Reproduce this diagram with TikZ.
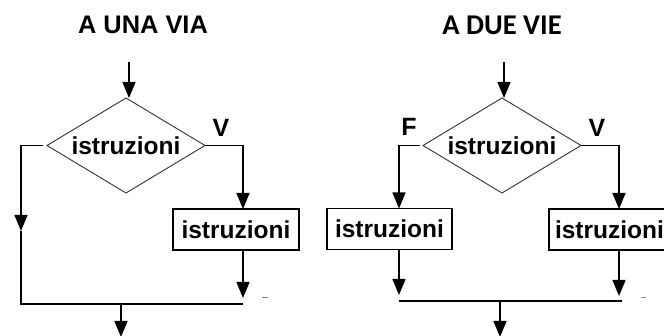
\documentclass[tikz,border=0pt]{standalone}
\usepackage{fontspec}
\setmainfont{Liberation Sans}
\newfontfamily\headfont{Carlito}
\usetikzlibrary{shapes.geometric,arrows.meta}
\begin{document}
\begin{tikzpicture}[x=1pt,y=-1pt,
  flow/.style={line width=1.4pt, draw=black},
  arr/.style={flow, -{Triangle[length=16pt,width=13pt]}},
  cond/.style={diamond, draw=black!80, line width=0.9pt, aspect=1.66,
    minimum width=158pt, minimum height=95pt, inner sep=0pt, outer sep=0pt,
    font=\bfseries\fontsize{24.5}{24.5}\selectfont},
  stmt/.style={rectangle, draw=black, line width=1.4pt, minimum height=41pt,
    inner sep=0pt, outer sep=0pt, font=\bfseries\fontsize{24.5}{24.5}\selectfont},
  lbl/.style={inner sep=0pt, font=\bfseries\fontsize{25}{25}\selectfont},
  headA/.style={inner sep=0pt, font=\bfseries\fontsize{25.4}{25.4}\selectfont},
  headB/.style={inner sep=0pt, font=\headfont\bfseries\fontsize{28.6}{28.6}\selectfont},
  speck/.style={draw=black!45, line width=1pt}
]
\useasboundingbox (0,0) rectangle (664,336);

% ---------- one-way selection ----------
\node[headA] (t1) at (143,25) {A UNA VIA};
\node[cond] (d1) at (126,145.5) {istruzioni};
\node[stmt, minimum width=126pt] (b1) at (236,229.5) {istruzioni};
\node[lbl] (v1) at (221,128) {V};

\coordinate (s1) at (129,62);
\coordinate (la) at (21,231);
\coordinate (jl1) at (21,304);
\coordinate (jr1) at (243,304);
\coordinate (r1) at (243,146);
\coordinate (e1) at (243,298);
\coordinate (m1) at (121,304);
\coordinate (o1) at (121,337);

\draw[arr] (s1) -- (s1 |- d1.north);
\draw[arr, shorten <=4pt] (d1.west) -| (la);
\draw[flow] (la) -- (jl1) -- (jr1);
\draw[arr] (d1.east) -| (r1 |- b1.north);
\draw[arr] (r1 |- b1.south) -- (e1);
\draw[arr] (m1) -- (o1);
\draw[speck] (262,298) -- (268,298);

% ---------- two-way selection ----------
\node[headB] (t2) at (502,25) {A DUE VIE};
\node[cond] (d2) at (502,145.5) {istruzioni};
\node[stmt, minimum width=125pt] (b2) at (389.5,229) {istruzioni};
\node[stmt, minimum width=121pt] (b3) at (609.5,229.5) {istruzioni};
\node[lbl] (f2) at (409,126.5) {F};
\node[lbl] (v2) at (597,127.5) {V};

\coordinate (s2) at (504,62);
\coordinate (l2) at (399,146);
\coordinate (r2) at (619,146);
\coordinate (el2) at (399,295);
\coordinate (er2) at (619,296);
\coordinate (jl2) at (399,301);
\coordinate (jr2) at (622,301);
\coordinate (m2) at (500,301);
\coordinate (o2) at (500,337);

\draw[arr] (s2) -- (s2 |- d2.north);
\draw[arr, shorten <=3pt] (d2.west) -| (l2 |- b2.north);
\draw[arr] (d2.east) -| (r2 |- b3.north);
\draw[arr] (l2 |- b2.south) -- (el2);
\draw[arr] (r2 |- b3.south) -- (er2);
\draw[flow] (jl2) -- (jr2);
\draw[arr] (m2) -- (o2);
\draw[speck] (641,298) -- (646,298);
\end{tikzpicture}
\end{document}
